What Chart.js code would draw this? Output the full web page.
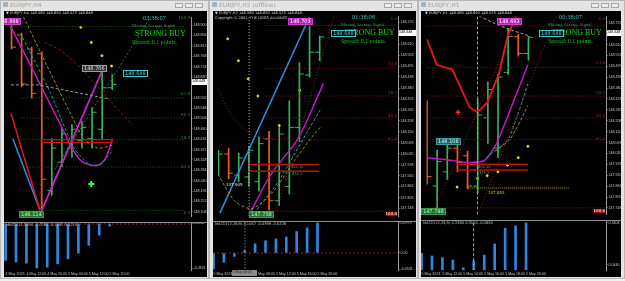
<!DOCTYPE html>
<html lang="en">
<head>
<meta charset="UTF-8">
<title>EURJPY - three terminals</title>
<script src="https://cdn.jsdelivr.net/npm/chart.js"></script>
<style>
  body { margin:0; width:625px; height:281px; background:#efefef; overflow:hidden; position:relative; font-family:"DejaVu Sans", sans-serif; }
  .win { position:absolute; top:0; height:279px; background:#e4e4e4; border:1px solid #b8b8b8; box-sizing:border-box; }
  .cap { position:absolute; top:1px; font-size:6px; line-height:8px; color:#a4a4a4; white-space:nowrap; }
  .ico { position:absolute; top:2px; width:5px; height:5px; background:#9fb4c8; border-radius:1px; }
  .btn { position:absolute; top:3px; width:8px; height:5px; border:1px solid #a9a9a9; background:#ececec; box-sizing:border-box; }
  .pane { position:absolute; background:#000; overflow:hidden; }
  .pane canvas { position:absolute; }
  .sep { position:absolute; left:0; right:0; height:1px; background:#8c8c8c; }
  .t { position:absolute; white-space:nowrap; line-height:1; }
</style>
</head>
<body>

<script>
// ================= data: window 1 (EURJPY,H4) =================
const w1Open  = [148.890, 148.858, 148.798, 148.778, 148.198, 148.318, 148.378, 148.410, 148.418, 148.458, 148.634];
const w1High  = [148.898, 148.866, 148.806, 148.786, 148.418, 148.466, 148.478, 148.490, 148.550, 148.706, 148.690];
const w1Low   = [148.798, 148.638, 148.590, 148.114, 148.178, 148.298, 148.338, 148.378, 148.378, 148.418, 148.626];
const w1Close = [148.806, 148.650, 148.610, 148.246, 148.378, 148.438, 148.458, 148.466, 148.530, 148.634, 148.648];
const w1Macd  = [-0.406, -0.424, -0.436, -0.490, -0.481, -0.443, -0.387, -0.323, -0.237, -0.124, -0.023];
const w1PriceTicks = [148.900, 148.856, 148.812, 148.768, 148.724, 148.680, 148.592, 148.548, 148.504, 148.460,
                      148.416, 148.372, 148.328, 148.284, 148.240, 148.196, 148.152, 148.108];
const w1MacdTicks = [0.0061, -0.4921];
const w1TimeAt = [0, 2, 4, 6, 8, 10];
const w1TimeText = ['4 May 2023', '4 May 12:00', '4 May 20:00', '5 May 04:00', '5 May 12:00', '5 May 20:00'];
const w1FibLevels = [148.894, 148.590, 148.506, 148.414, 148.298, 148.114];
const w1FibNames  = ['100.0', '61.8', '50.0', '38.2', '23.6', '0.0'];
const w1Zigzag  = [[3, 148.114], [9, 148.706]];
const w1Ma      = [[-0.06, 148.890], [2.35, 148.690], [5.23, 148.446], [6.0, 148.378], [6.87, 148.326],
                   [7.83, 148.306], [8.79, 148.310], [9.37, 148.338], [10.04, 148.418]];
const w1Cyan    = [[1.1, 148.846], [3.8, 148.618], [6.2, 148.378], [7.8, 148.306], [8.8, 148.306], [10.0, 148.366]];
const w1Olive   = [[1.19, 148.934], [7.15, 148.418], [8.6, 148.378], [10.0, 148.390]];
const w1Arc     = [[3.31, 148.826], [4.94, 148.790], [7.15, 148.706], [10.04, 148.566], [11.96, 148.478]];
const w1Grey    = [[-0.06, 148.646], [2.63, 148.646], [5.9, 148.618], [9.75, 148.586]];
const w1Trend   = [[4.27, 148.286], [13.88, 148.938]];
const w1RedDrop = [[-0.06, 148.526], [2.83, 148.114]];
const w1BlueDrop = [[0.13, 148.418], [2.83, 148.114]];
const w1Zone    = [148.414, 148.402];
const w1Sar     = [[6.88, 148.890], [7.92, 148.826], [8.98, 148.770], [9.94, 148.726]];
const w1Arrow   = [[7.92, 148.226]];

// ================= data: window 2 (EURJPY,H2 offline) =================
const w2Open  = [147.953, 148.033, 147.923, 147.913, 147.888, 148.113, 147.788, 147.863, 148.173, 148.448, 148.568];
const w2High  = [148.053, 148.063, 148.038, 148.073, 148.123, 148.153, 148.173, 148.313, 148.513, 148.703, 148.653];
const w2Low   = [147.923, 147.903, 147.888, 147.863, 147.838, 147.738, 147.763, 147.823, 148.098, 148.438, 148.523];
const w2Close = [148.033, 147.933, 148.013, 148.053, 148.088, 147.788, 148.138, 148.173, 148.453, 148.568, 148.648];
const w2Macd  = [-0.052, -0.030, -0.011, 0.008, 0.030, 0.040, 0.046, 0.052, 0.070, 0.082, 0.0979];
const w2PriceTicks = [148.725, 148.610, 148.553, 148.495, 148.438, 148.380, 148.323, 148.265, 148.208, 148.150,
                      148.093, 148.035, 147.978, 147.920, 147.863, 147.805, 147.748];
const w2MacdTicks = [0.0979, 0, -0.0531];
const w2TimeAt = [0, 2, 4, 6, 8, 10];
const w2TimeText = ['5 May 2023', '5 May 04:00', '5 May 08:00', '5 May 12:00', '5 May 16:00', '5 May 20:00'];
const w2FibLevels = [148.708, 148.483, 148.338, 148.223, 148.108, 147.733];
const w2FibNames  = ['0.0', '23.6', '38.2', '50.0', '61.8', '100.0'];
const w2Blue    = [[0.14, 147.723], [8.99, 148.753]];
const w2Magenta = [[3.03, 147.713], [5.14, 147.923], [7.84, 148.113], [9.95, 148.353], [10.34, 148.403]];
const w2Cyan    = [[3.51, 147.723], [5.91, 147.888], [8.8, 148.153], [10.05, 148.263]];
const w2Olive   = [[-0.05, 147.928], [1.59, 147.788], [3.32, 147.748], [5.43, 147.838], [7.36, 147.988], [9.09, 148.113], [10.05, 148.173]];
const w2Arc     = [[-0.05, 148.373], [1.11, 148.253], [2.55, 148.163], [4.66, 148.113], [7.36, 148.123]];
const w2Channel = [[5.72, 147.733], [11.39, 148.753]];
const w2Zone    = [147.978, 147.943];
const w2Sar     = [[0.91, 148.638], [1.97, 148.523], [2.93, 148.428], [3.89, 148.338], [6.01, 148.183], [8.03, 148.368]];
const w2Cursor  = 3.03;

// ================= data: window 3 (EURJPY,H1) =================
const w3Open  = [148.263, 147.863, 147.938, 148.063, 148.023, 147.863, 148.223, 148.063, 148.463, 148.653, 148.563];
const w3High  = [148.313, 148.053, 148.078, 148.098, 148.048, 148.323, 148.413, 148.453, 148.693, 148.663, 148.653];
const w3Low   = [147.873, 147.748, 147.898, 147.938, 147.848, 147.828, 148.088, 148.013, 148.453, 148.548, 148.528];
const w3Close = [147.913, 147.993, 148.063, 147.988, 147.863, 148.238, 148.373, 148.438, 148.653, 148.563, 148.648];
const w3Macd  = [0.127, 0.108, 0.096, 0.079, 0.025, 0.074, 0.114, 0.192, 0.304, 0.320, 0.3404];
const w3PriceTicks = [148.725, 148.610, 148.553, 148.495, 148.438, 148.380, 148.323, 148.265, 148.208, 148.150,
                      148.093, 148.035, 147.978, 147.920, 147.863, 147.805, 147.748];
const w3MacdTicks = [0.3404, 0.0440];
const w3TimeAt = [0, 2, 4, 6, 8, 10];
const w3TimeText = ['5 May 2023', '5 May 12:00', '5 May 14:00', '5 May 16:00', '5 May 18:00', '5 May 20:00'];
const w3FibLevels = [148.708, 148.488, 148.338, 148.223, 148.108, 147.748];
const w3FibNames  = ['0.0', '23.6', '38.2', '50.0', '61.8', '100.0'];
const w3Red     = [[0, 148.638], [0.96, 148.503], [2.49, 148.478], [4.21, 148.278], [4.98, 148.253],
                   [5.93, 148.303], [7.08, 148.453], [7.94, 148.653], [9.0, 148.788]];
const w3Magenta = [[0, 148.013], [1.82, 148.003], [4.02, 147.988], [5.65, 147.998], [6.6, 148.063], [7.08, 148.113], [9.95, 148.503]];
const w3Cyan    = [[5.84, 148.013], [8.04, 148.113], [9.95, 148.403]];
const w3Olive   = [[6.79, 148.048], [8.23, 148.113], [9.95, 148.288]];
const w3Grey    = [[4.69, 148.773], [6.6, 148.723], [8.52, 148.683], [9.95, 148.658]];
const w3ChannelA = [[0.67, 147.733], [9.19, 148.773]];
const w3ChannelB = [[5.17, 147.733], [12.82, 148.773]];
const w3Zone    = [147.978, 147.948];
const w3Target  = 147.853;
const w3Sar     = [[2.97, 147.858], [4.98, 147.903], [5.93, 147.918], [6.99, 147.938], [7.94, 147.973], [9.0, 148.013], [9.95, 148.073]];
const w3Cross   = [[3.06, 148.253]];
const w3Cursor  = 4.98;

// ================= helpers =================
const UP = '#35b55c', DOWN = '#f0601c';
const AXIS_FONT = { size: 3.6, family: 'Liberation Sans' };

function lineSet(pts, color, width, dash, tension) {
  return { type: 'line', data: pts.map(p => ({ x: p[0], y: p[1] })), borderColor: color, borderWidth: width,
           borderDash: dash || [], pointRadius: 0, tension: tension || 0, fill: false };
}
function hLine(y, x0, x1, color, width, dash) { return lineSet([[x0, y], [x1, y]], color, width, dash); }
function dots(pts, color, r, style, bw) {
  return { type: 'scatter', data: pts.map(p => ({ x: p[0], y: p[1] })), pointRadius: r, pointStyle: style || 'circle',
           pointBackgroundColor: color, pointBorderColor: color, pointBorderWidth: bw || 1 };
}
function ohlcSets(o, h, l, c) {
  const col = o.map((v, k) => c[k] >= v ? UP : DOWN);
  return [
    { type: 'bar', data: o.map((v, k) => ({ x: k, y: [l[k], h[k]] })), backgroundColor: col, barThickness: 1, borderWidth: 0 },
    { type: 'scatter', data: o.map((v, k) => ({ x: k - 0.22, y: v })), pointStyle: 'line', pointRadius: 2.3, pointBorderColor: col, pointBorderWidth: 1 },
    { type: 'scatter', data: c.map((v, k) => ({ x: k + 0.22, y: v })), pointStyle: 'line', pointRadius: 2.3, pointBorderColor: col, pointBorderWidth: 1 }
  ];
}

function makeChart(canvas, datasets, o) {
  return new Chart(canvas, {
    type: 'scatter',
    data: { datasets: datasets },
    options: {
      responsive: false, animation: false, devicePixelRatio: 1, events: [],
      layout: { padding: 0 },
      plugins: { legend: { display: false }, tooltip: { enabled: false } },
      scales: {
        x: {
          type: 'linear', min: o.xmin, max: o.xmax, offset: false, display: !!o.timeAt,
          grid: { display: false, drawTicks: false, offset: false }, border: { display: false },
          afterBuildTicks: s => { if (o.timeAt) s.ticks = o.timeAt.map(v => ({ value: v })); },
          afterFit: s => { s.height = o.timeAt ? 7 : 0; s.paddingLeft = 0; s.paddingRight = 0; },
          ticks: { autoSkip: false, maxRotation: 0, align: 'start', padding: 1.5, color: '#c4c4c4',
                   font: AXIS_FONT,
                   callback: (v, i) => o.timeText ? o.timeText[i] : '' }
        },
        y: {
          type: 'linear', position: 'right', min: o.ymin, max: o.ymax,
          grid: { display: true, drawOnChartArea: false, tickLength: 1.5, color: '#9a9a9a' },
          border: { display: true, color: '#9a9a9a' },
          afterBuildTicks: s => { s.ticks = o.ticks.map(v => ({ value: v })); },
          afterFit: s => { s.width = o.axisW; s.paddingTop = 0; s.paddingBottom = 0; },
          ticks: { padding: 1, color: '#c8c8c8', font: AXIS_FONT, callback: v => o.fmt(v) }
        }
      }
    }
  });
}

function el(parent, cls, css, text) {
  const d = document.createElement('div');
  if (cls) d.className = cls;
  Object.assign(d.style, css);
  if (text !== undefined) d.textContent = text;
  parent.appendChild(d);
  return d;
}

function windowFrame(L, W, title, paneL, paneW) {
  el(document.body, 'win', { left: L + 'px', width: W + 'px' });
  el(document.body, 'ico', { left: (L + 3) + 'px' });
  el(document.body, 'cap', { left: (L + 10) + 'px' }, title);
  [26, 16, 6].forEach(r => el(document.body, 'btn', { left: (L + W - r - 8) + 'px' }));
  return el(document.body, 'pane', { left: paneL + 'px', top: '11px', width: paneW + 'px', height: '266px' });
}

function addCanvas(pane, top, w, h) {
  const c = document.createElement('canvas');
  c.width = w; c.height = h;
  c.style.left = '0px'; c.style.top = top + 'px';
  pane.appendChild(c);
  return c;
}

// text inside a pane, placed in page coordinates
function label(pane, P, x, y, text, css) {
  return el(pane, 't', Object.assign({ left: (x - P.x) + 'px', top: (y - P.y) + 'px' }, css), text);
}
function rlabel(pane, P, xr, y, text, css) {
  return el(pane, 't', Object.assign({ right: (P.x + P.w - xr) + 'px', top: (y - P.y) + 'px' }, css), text);
}
function box(pane, P, x, y, text, fg, bg, bd) {
  return label(pane, P, x, y, text, { color: fg, background: bg, border: '1px solid ' + bd, fontSize: '5px', padding: '0 1px' });
}

const f3 = v => v.toFixed(3);
const f4 = v => v === 0 ? '0.00' : v.toFixed(4);

function signalBlock(pane, P, x, y, clock) {
  label(pane, P, x + 11, y, clock, { color: '#38c8c8', fontSize: '6.5px', fontFamily: 'Liberation Serif' });
  label(pane, P, x, y + 9, 'Moving Average Signal', { color: '#2aa04a', fontSize: '4.6px', fontFamily: 'Liberation Serif' });
  label(pane, P, x + 3, y + 15, 'STRONG BUY', { color: '#10e010', fontSize: '8px', fontFamily: 'Liberation Serif' });
  label(pane, P, x, y + 24, 'Spread: 0.1 points.', { color: '#10d010', fontSize: '6px', fontFamily: 'Liberation Serif' });
}
function axisPrice(pane, P, x, y, w) {
  label(pane, P, x, y, '148.648', { color: '#000', background: '#fff', fontSize: '3.7px', fontFamily: 'Liberation Sans',
                                    width: w + 'px', padding: '1px 0' });
}

// ================= window 1 =================
(function () {
  const P = { x: 4, y: 11, w: 203 };
  const pane = windowFrame(0, 209, 'EURJPY,H4', P.x, P.w);
  const xmin = -0.154, xmax = 17.827;
  const ds = [];
  w1FibLevels.forEach(v => ds.push(hLine(v, 0.9, 17.3, '#1d6e1d', 1, [1, 2])));
  ds.push(lineSet(w1Grey, '#9a9a9a', 1, [3, 2]));
  ds.push(lineSet(w1Arc, '#8c1a1a', 1, [3, 2], 0.3));
  ds.push(lineSet(w1Olive, '#a08a10', 1, [3, 2], 0.2));
  ds.push(lineSet(w1Cyan, '#14a0a0', 1, [3, 2], 0.2));
  ds.push(lineSet(w1Trend, '#1e7a3a', 1, [2, 2]));
  ds.push(lineSet(w1RedDrop, '#e01818', 1.5));
  ds.push(lineSet(w1BlueDrop, '#2f8fe8', 1.5));
  w1Zone.forEach(v => ds.push(hLine(v, 2.92, 10.04, '#d01010', 1.3)));
  ds.push(lineSet([[2.92, w1Zone[0]], [2.92, 148.114]], '#d01010', 1, [2, 2]));
  ds.push(lineSet(w1Ma, '#c818c8', 1.5, [], 0.3));
  ds.push(lineSet(w1Zigzag, '#d020d0', 1.8));
  ohlcSets(w1Open, w1High, w1Low, w1Close).forEach(d => ds.push(d));
  ds.push(dots(w1Sar, '#e8e020', 1));
  ds.push(dots(w1Arrow, '#33ff33', 3, 'cross', 2));
  makeChart(addCanvas(pane, 0, 203, 211), ds, { xmin, xmax, ymin: 148.090, ymax: 148.934, ticks: w1PriceTicks, axisW: 16, fmt: f3 });

  const md = [hLine(0, xmin, xmax, '#b01818', 1, [2, 2]),
              { type: 'bar', data: w1Macd.map((v, k) => ({ x: k, y: v })), backgroundColor: '#2f86e0', barThickness: 2, borderWidth: 0 }];
  makeChart(addCanvas(pane, 212, 203, 54), md, { xmin, xmax, ymin: -0.512, ymax: 0.011, ticks: w1MacdTicks, axisW: 16, fmt: f4,
                                                  timeAt: w1TimeAt, timeText: w1TimeText });
  el(pane, 'sep', { top: '211px' });

  label(pane, P, 6, 12, '\u25BC EURJPY,H4  148.580 148.650 148.523 148.648', { color: '#d8d8d8', fontSize: '3.6px' });
  label(pane, P, 6, 224, 'MACD(12,26,9) -0.0282 -0.1492 0.1210', { color: '#c8c8c8', fontSize: '3.6px' });
  signalBlock(pane, P, 132, 15, '03:38:07');
  box(pane, P, 123, 70, '148.648', '#40e0e0', '#000', '#40c8c8');
  box(pane, P, 82, 65, '148.706', '#e0e0e0', '#303030', '#a0a0a0');
  box(pane, P, -4, 18, '148.898', '#fff', '#b020b0', '#d040d0');
  box(pane, P, 19, 211, '148.114', '#c8ffc8', '#1e6e2e', '#3c9c4c');
  w1FibNames.forEach((n, k) => {
    const y = [20, 96, 117, 140, 169, 215][k];
    rlabel(pane, P, 190, y - 4, n, { color: '#2f8a2f', fontSize: '4px' });
  });
  axisPrice(pane, P, 192, 79, 15);
})();

// ================= window 2 =================
(function () {
  const P = { x: 213, y: 11, w: 203 };
  const pane = windowFrame(209, 209, 'EURJPY,H2 (offline)', P.x, P.w);
  const xmin = -0.048, xmax = 17.74;
  const ds = [];
  w2FibLevels.forEach(v => ds.push(hLine(v, 4.66, xmax, '#8a1a30', 1, [1, 2])));
  ds.push(lineSet(w2Arc, '#8c1a1a', 1, [1, 2], 0.3));
  ds.push(lineSet(w2Channel, '#a01a2a', 1, [1, 2]));
  ds.push(lineSet([[w2Cursor, 147.708], [w2Cursor, 148.758]], '#b8b8b8', 1, [1, 2]));
  w2Zone.forEach(v => ds.push(hLine(v, 2.93, 9.95, '#c80c0c', 1.6)));
  ds.push(lineSet(w2Olive, '#a08a10', 1, [3, 2], 0.3));
  ds.push(lineSet(w2Cyan, '#14a8a8', 1, [3, 2], 0.2));
  ds.push(lineSet(w2Magenta, '#c018c8', 1.5, [], 0.3));
  ds.push(lineSet(w2Blue, '#2f8fe8', 1.5));
  ohlcSets(w2Open, w2High, w2Low, w2Close).forEach(d => ds.push(d));
  ds.push(dots(w2Sar, '#e8e020', 1));
  makeChart(addCanvas(pane, 0, 203, 210), ds, { xmin, xmax, ymin: 147.708, ymax: 148.758, ticks: w2PriceTicks, axisW: 18, fmt: f3 });

  const md = [hLine(0, xmin, xmax, '#b01818', 1, [2, 2]),
              lineSet([[w2Cursor, -0.06], [w2Cursor, 0.11]], '#b8b8b8', 1, [1, 2]),
              { type: 'bar', data: w2Macd.map((v, k) => ({ x: k, y: v })), backgroundColor: '#2f86e0', barThickness: 2, borderWidth: 0 }];
  makeChart(addCanvas(pane, 211, 203, 55), md, { xmin, xmax, ymin: -0.0554, ymax: 0.101, ticks: w2MacdTicks, axisW: 18, fmt: f4,
                                                  timeAt: w2TimeAt, timeText: w2TimeText });
  el(pane, 'sep', { top: '210px' });

  label(pane, P, 215, 12, '\u25BC EURJPY,H2  148.580 148.650 148.523 148.648', { color: '#d8d8d8', fontSize: '3.6px' });
  label(pane, P, 215, 17, 'Copyright \u00A9 2001, THE DOGS ALLIANCE', { color: '#d8d8d8', fontSize: '3.6px' });
  label(pane, P, 215, 223, 'MACD(12,26,9) 0.1057 -0.0399 -0.0226', { color: '#c8c8c8', fontSize: '3.6px' });
  signalBlock(pane, P, 341, 14, '01:38:08');
  box(pane, P, 331, 30, '148.648', '#40e0e0', '#000', '#40c8c8');
  box(pane, P, 288, 18, '148.703', '#fff', '#b020b0', '#d040d0');
  box(pane, P, 249, 211, '147.738', '#c8ffc8', '#1e6e2e', '#3c9c4c');
  label(pane, P, 226, 183, '147.905', { color: '#e0e0e0', fontSize: '4px' });
  label(pane, P, 291, 166, '355.15', { color: '#3cc05c', fontSize: '3.6px' });
  label(pane, P, 292, 173, '325.1', { color: '#3cc05c', fontSize: '3.6px' });
  w2FibNames.forEach((n, k) => {
    const y = [21, 66, 95, 118, 141, 216][k];
    const css = k === 5 ? { color: '#fff', background: '#a01010', fontSize: '4px' } : { color: '#a02030', fontSize: '4px' };
    rlabel(pane, P, 397, y - 4, n, css);
  });
  axisPrice(pane, P, 399, 30, 17);
  label(pane, P, 232, 270, '5 May 04:00', { color: '#202020', background: '#8a8a8a', fontSize: '3.6px', fontFamily: 'Liberation Sans',
                                            width: '25px', padding: '1px 0' });
})();

// ================= window 3 =================
(function () {
  const P = { x: 421, y: 11, w: 200 };
  const pane = windowFrame(418, 207, 'EURJPY,H1', P.x, P.w);
  const xmin = -0.05, xmax = 17.65;
  const ds = [];
  w3FibLevels.forEach(v => ds.push(hLine(v, xmin, xmax, '#8a1a30', 1, [1, 2])));
  ds.push(lineSet(w3ChannelA, '#a01a2a', 1, [1, 2]));
  ds.push(lineSet(w3ChannelB, '#a01a2a', 1, [1, 2]));
  ds.push(lineSet([[w3Cursor, 147.713], [w3Cursor, 148.758]], '#c8a818', 1, [3, 2]));
  ds.push(hLine(w3Target, 4.02, 13.97, '#b8a010', 1, [1, 1]));
  w3Zone.forEach(v => ds.push(hLine(v, 2.97, 9.95, '#c80c0c', 1.6)));
  ds.push(lineSet(w3Grey, '#a8a8a8', 1, [3, 2], 0.3));
  ds.push(lineSet(w3Olive, '#a08a10', 1, [3, 2], 0.2));
  ds.push(lineSet(w3Cyan, '#14a8a8', 1, [3, 2], 0.2));
  ds.push(lineSet(w3Magenta, '#c018c8', 1.5, [], 0.3));
  ds.push(lineSet(w3Red, '#f01414', 1.8));
  ohlcSets(w3Open, w3High, w3Low, w3Close).forEach(d => ds.push(d));
  ds.push(dots(w3Sar, '#e8e020', 1));
  ds.push(dots(w3Cross, '#ff2a2a', 2.5, 'cross', 1.5));
  makeChart(addCanvas(pane, 0, 200, 209), ds, { xmin, xmax, ymin: 147.713, ymax: 148.758, ticks: w3PriceTicks, axisW: 15, fmt: f3 });

  const md = [lineSet([[w3Cursor, 0], [w3Cursor, 0.36]], '#c8a818', 1, [3, 2]),
              { type: 'bar', data: w3Macd.map((v, k) => ({ x: k, y: v })), backgroundColor: '#2f86e0', barThickness: 2, borderWidth: 0 }];
  makeChart(addCanvas(pane, 210, 200, 56), md, { xmin, xmax, ymin: 0.0087, ymax: 0.3545, ticks: w3MacdTicks, axisW: 15, fmt: f4,
                                                  timeAt: w3TimeAt, timeText: w3TimeText });
  el(pane, 'sep', { top: '209px' });

  label(pane, P, 425, 12, '\u25BC EURJPY,H1  148.580 148.650 148.523 148.648', { color: '#d8d8d8', fontSize: '3.6px' });
  label(pane, P, 423, 222, 'MACD(12,26,9) 0.3380 0.3550 -0.0850', { color: '#c8c8c8', fontSize: '3.6px' });
  signalBlock(pane, P, 548, 14, '00:38:07');
  box(pane, P, 539, 30, '148.648', '#40e0e0', '#000', '#40c8c8');
  box(pane, P, 497, 18, '148.693', '#fff', '#b020b0', '#d040d0');
  box(pane, P, 421, 208, '147.748', '#c8ffc8', '#1e6e2e', '#3c9c4c');
  box(pane, P, 436, 138, '148.108', '#c8ffff', '#1e5e5e', '#3c9c9c');
  label(pane, P, 488, 191, '147.853', { color: '#d8c820', fontSize: '4px' });
  label(pane, P, 478, 166, '355.15', { color: '#3cc05c', fontSize: '3.6px' });
  label(pane, P, 479, 172, '325.1', { color: '#3cc05c', fontSize: '3.6px' });
  w3FibNames.forEach((n, k) => {
    const y = [21, 65, 95, 118, 141, 213][k];
    const css = k === 5 ? { color: '#fff', background: '#a01010', fontSize: '4px' } : { color: '#a02030', fontSize: '4px' };
    rlabel(pane, P, 605, y - 4, n, css);
  });
  axisPrice(pane, P, 607, 30, 14);
})();
</script>
</body>
</html>
